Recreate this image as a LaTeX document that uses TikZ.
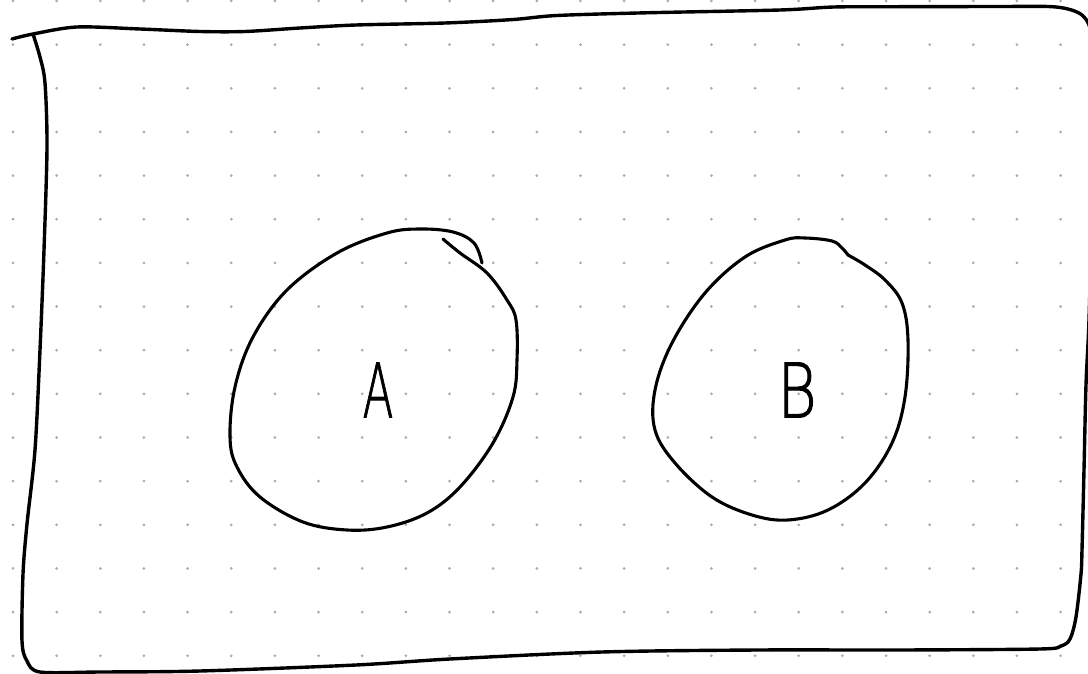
\documentclass[tikz,border=0pt]{standalone}
\usepackage{fontspec}
\IfFontExistsTF{DejaVu Sans ExtraLight}{\newfontfamily\handfont[FakeBold=1.5]{DejaVu Sans ExtraLight}}{\newfontfamily\handfont{DejaVu Sans}}
\definecolor{griddot}{HTML}{ABABAB}
\tikzset{
  pen/.style={line width=3.1pt, line cap=round, line join=round, black},
  framepen/.style={line width=3.4pt, line cap=round, line join=round, black},
  gdot/.style={fill=griddot},
  letter/.style={inner sep=0pt, font=\handfont\fontsize{75}{75}\selectfont, transform shape}
}
\begin{document}
\begin{tikzpicture}[x=1pt,y=-1pt]
\useasboundingbox (0,0) rectangle (1088,674);
\fill[white] (0,0) rectangle (1088,674);
\clip (0,0) rectangle (1088,674);
% dotted grid
\foreach \i in {0,...,24}{
  \foreach \j in {0,...,15}{
    \fill[gdot] ({13+43.65*\i},{1+43.65*\j}) circle (1.5);
  }
}
% frame
\draw[framepen] plot[smooth, tension=0.5] coordinates {
 (12,39) (33,34) (77,27) (140,29) (200,31.5) (245,31.5) (300,28) (356,25)
 (445,23) (512,19.6) (557,15.5) (646,12.8) (780,10) (834,7) (900,6.7)
 (1000,6.5) (1048,6.5) (1068,9) (1082,15) (1090,28) (1093,60) (1092,200)
 (1089,320) (1086,385) (1084,470) (1082,550) (1081,574) (1076,617)
 (1070,639) (1061,646) (1040,649) (900,650) (758,650) (602,652) (450,659)
 (356,665) (200,671) (100,672) (40,672) (27,661) (22,641) (23,574)
 (27,524) (35,450) (40,350) (44,250) (47,147) (45,83) (40,57) (33,34)};
% set A
\draw[pen] plot[smooth, tension=0.6] coordinates {
 (443,239) (460,253) (487,273) (507,300) (516,320) (517,360) (513,397)
 (493,443) (460,487) (427,513) (387,527) (347,530) (303,522) (260,497)
 (237,467) (230,437) (235,387) (253,337) (287,290) (337,253) (387,233)
 (420,229) (453,232) (474,243) (482,263)};
% set B
\draw[pen] plot[smooth, tension=0.6] coordinates {
 (848,255) (865,265) (885,280) (902,303) (908,340) (905,397) (892,443)
 (865,483) (828,510) (788,520) (752,515) (712,497) (675,463) (655,430)
 (655,390) (672,343) (705,293) (745,257) (785,240) (805,238) (832,241)
 (842,248) (848,255)};
% labels
\node[letter, xscale=0.6] (A) at (378,390) {A};
\node[letter, xscale=0.8] (B) at (797,390) {B};
\end{tikzpicture}
\end{document}
